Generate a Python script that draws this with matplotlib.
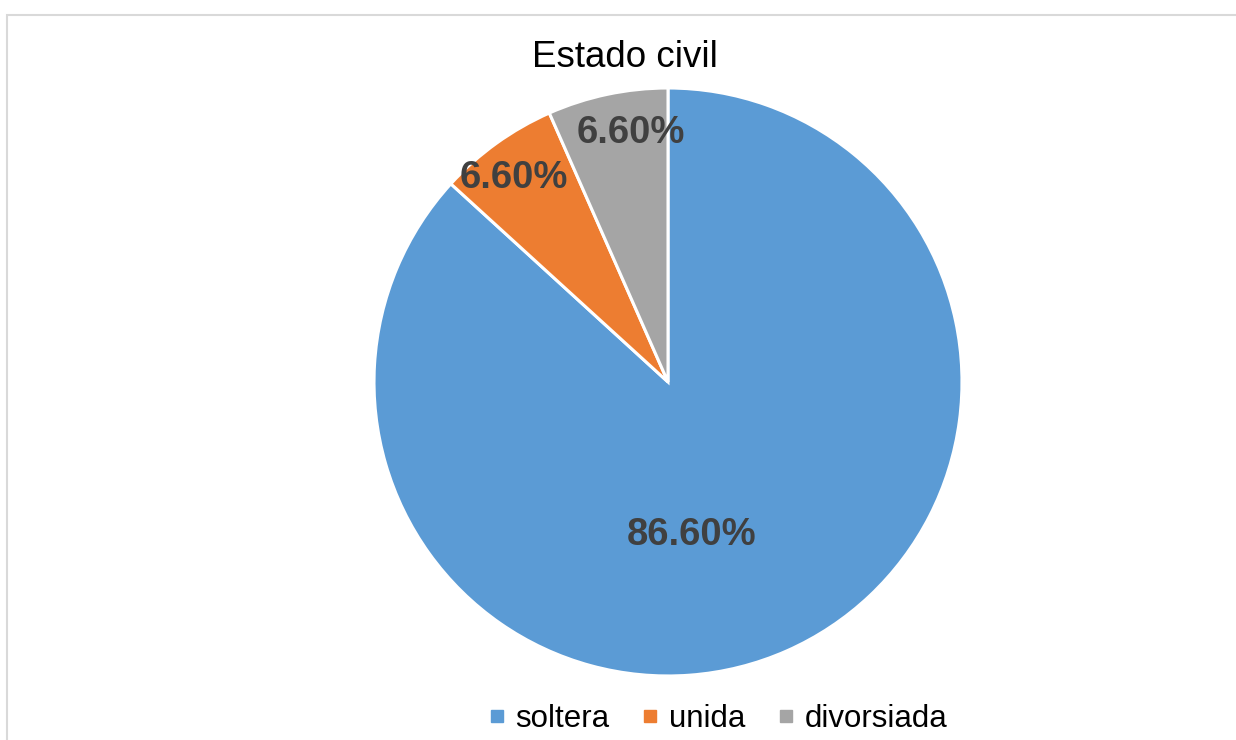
import matplotlib
matplotlib.use("Agg")
import matplotlib.pyplot as plt
import numpy as np
from matplotlib.lines import Line2D
from matplotlib.patches import Rectangle

plt.rcParams["font.family"] = ["Liberation Sans", "DejaVu Sans"]

# datos
categorias = ["soltera", "unida", "divorsiada"]
porcentajes = [86.6, 6.6, 6.6]
etiquetas = ["86.60%", "6.60%", "6.60%"]
colores = ["#5B9BD5", "#ED7D31", "#A5A5A5"]

fig = plt.figure(figsize=(12.36, 7.4), dpi=100)

# marco gris del grafico
fig.patches.append(Rectangle((7 / 1236, -0.1), 1.1, (740 - 15) / 740 + 0.1,
                             transform=fig.transFigure, fill=False,
                             edgecolor="#D9D9D9", linewidth=1.5))

ax = fig.add_axes([0.3026, 0.0865, 0.4757, 0.7946])
wedges, textos = ax.pie(porcentajes, colors=colores, startangle=90,
                        counterclock=False, radius=1,
                        wedgeprops=dict(edgecolor="white", linewidth=2.2))
ax.set_aspect("equal")
ax.set_xlim(-1, 1)
ax.set_ylim(-1, 1)

# etiquetas de porcentaje (ajuste fino como en Excel)
ajustes = {1: (0.87, 1.5), 2: (0.855, -3.5)}
for i, w in enumerate(wedges):
    ang = (w.theta1 + w.theta2) / 2
    if i == 0:
        x, y = 0.08, -0.52
    else:
        dist, dang = ajustes[i]
        a = np.deg2rad(ang + dang)
        x, y = dist * np.cos(a), dist * np.sin(a)
    ax.text(x, y, etiquetas[i], ha="center", va="center", fontsize=27.5,
            fontweight="bold", color="#404040")

fig.text(0.506, 0.922, "Estado civil", ha="center", va="center",
         fontsize=26.5, color="black")

handles = [Line2D([0], [0], marker="s", linestyle="none", markersize=8,
                  markerfacecolor=c, markeredgecolor=c) for c in colores]
fig.legend(handles, categorias, loc="center", bbox_to_anchor=(0.5805, 0.028),
           ncol=3, frameon=False, fontsize=22.5, handlelength=0.6,
           handletextpad=0.3, columnspacing=1.0, borderpad=0)

fig.savefig("out.png", dpi=100)
